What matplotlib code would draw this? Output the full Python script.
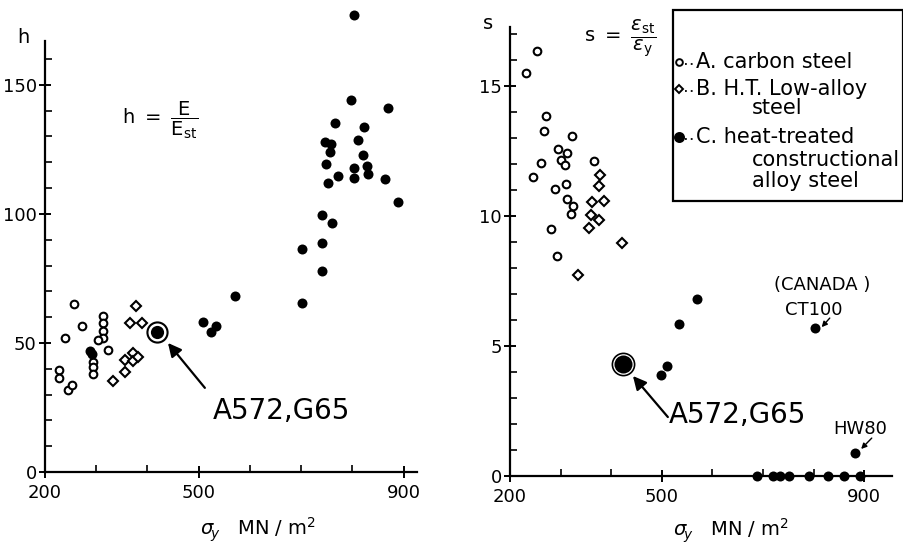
import matplotlib
matplotlib.use('Agg')
import matplotlib.pyplot as plt
from matplotlib.lines import Line2D
from matplotlib.patches import Rectangle

plt.rcParams['font.family'] = ['DejaVu Sans']
plt.rcParams['mathtext.fontset'] = 'dejavusans'

# ---- left panel: h = E / E_st ----
h_A_sy = [257, 272, 239, 228, 228, 244, 253, 313, 313, 313, 313, 304, 322, 294, 294, 294]
h_A_val = [65.0, 56.6, 52.1, 39.5, 36.3, 31.8, 33.7, 60.5, 57.9, 54.8, 51.8, 51.2, 47.3, 42.8, 40.5, 38.0]
h_B_sy = [378, 365, 389, 332, 356, 356, 372, 372, 382]
h_B_val = [64.3, 57.9, 57.9, 35.4, 43.4, 38.9, 46.0, 43.0, 44.7]
h_C_sy = [804, 798, 870, 766, 823, 746, 759, 756, 810, 821, 748, 804, 828, 771, 752, 804,
          830, 863, 889, 741, 761, 740, 701, 741, 701, 571, 509, 524, 534, 288, 292]
h_C_val = [177, 144.2, 141, 135.4, 133.6, 127.8, 127.1, 124.1, 128.7, 122.9, 119.3, 117.7,
           118.7, 114.5, 111.9, 113.8, 115.4, 113.6, 104.8, 99.6, 96.6, 88.6, 86.4, 77.8,
           65.6, 68.2, 58.3, 54.4, 56.6, 47.0, 45.6]
h_a572 = (418, 54.2)

# ---- right panel: s = eps_st / eps_y ----
s_A_sy = [253, 232, 271, 268, 323, 294, 313, 300, 309, 262, 246, 366, 289, 311, 313, 324, 320, 281, 292]
s_A_val = [16.36, 15.5, 13.86, 13.3, 13.1, 12.6, 12.43, 12.15, 11.99, 12.05, 11.5, 12.13,
           11.03, 11.26, 10.65, 10.4, 10.08, 9.5, 8.46]
s_B_sy = [377, 375, 363, 386, 361, 376, 357, 421, 334]
s_B_val = [11.58, 11.15, 10.55, 10.58, 10.04, 9.87, 9.55, 8.97, 7.73]
s_C_sy = [569, 535, 511, 498, 803, 882, 689, 720, 733, 752, 790, 829, 861, 892]
s_C_val = [6.8, 5.85, 4.23, 3.88, 5.68, 0.9, 0, 0, 0, 0, 0, 0, 0, 0]
s_a572 = (423, 4.31)

W, H = 904, 550
fig = plt.figure(figsize=(W / 100, H / 100), dpi=100)


def px_axes(x0, y0, x1, y1):
    return fig.add_axes([x0 / W, 1 - y1 / H, (x1 - x0) / W, (y1 - y0) / H])


def style(ax, yminor):
    for s in ['top', 'right']:
        ax.spines[s].set_visible(False)
    for s in ['left', 'bottom']:
        ax.spines[s].set_linewidth(1.6)
    ax.set_xticks([200, 500, 900])
    ax.set_xticks([300, 400, 600, 700, 800], minor=True)
    ax.set_yticks(yminor, minor=True)
    ax.tick_params(which='major', direction='inout', length=8, width=1.4, labelsize=13, pad=2)
    ax.tick_params(axis='x', which='major', pad=5)
    ax.tick_params(which='minor', direction='in', length=5, width=1.2)


def draw(ax, A, B, C, big, big_sizes):
    ax.plot(A[0], A[1], 'o', ms=5.5, mfc='white', mec='black', mew=1.5, ls='none', clip_on=False)
    ax.plot(B[0], B[1], 'D', ms=4.6, mfc='white', mec='black', mew=1.5, ls='none', clip_on=False)
    ax.plot(C[0], C[1], 'o', ms=7.2, mfc='black', mec='black', mew=0, ls='none', clip_on=False)
    ax.plot([big[0]], [big[1]], 'o', ms=big_sizes[0], mfc='none', mec='black', mew=big_sizes[2])
    ax.plot([big[0]], [big[1]], 'o', ms=big_sizes[1], mfc='black', mec='black', mew=0)


xlab = r'$\sigma_{\!y}$   MN / m$^2$'

# left panel
ax1 = px_axes(45, 41, 417, 472)
ax1.set_xlim(200, 926)
ax1.set_ylim(0, 167)
ax1.set_yticks([0, 50, 100, 150])
style(ax1, [v for v in range(10, 170, 10) if v % 50])
draw(ax1, (h_A_sy, h_A_val), (h_B_sy, h_B_val), (h_C_sy, h_C_val), h_a572, (14.5, 9.5, 1.5))
ax1.set_ylabel('h', rotation=0, fontsize=14)
ax1.yaxis.set_label_coords(-0.059, 0.985)
ax1.set_xlabel(xlab, fontsize=14)
ax1.xaxis.set_label_coords(0.573, -0.102)
ax1.text(424, 136.4, r'$\mathrm{h}\ =\ \dfrac{\mathrm{E}}{\mathrm{E_{st}}}$', fontsize=14,
         ha='center', va='center')
ax1.text(528, 23.6, 'A572,G65', fontsize=20, ha='left', va='center')
ax1.annotate('', xy=(440, 50), xytext=(512, 32.6),
             arrowprops=dict(arrowstyle='-|>', lw=1.6, color='black', mutation_scale=20,
                             shrinkA=0, shrinkB=0))

# right panel
ax2 = px_axes(510, 26.6, 892, 476)
ax2.set_xlim(200, 955)
ax2.set_ylim(0, 17.3)
ax2.set_yticks([0, 5, 10, 15])
style(ax2, [v for v in range(1, 18) if v % 5])
draw(ax2, (s_A_sy, s_A_val), (s_B_sy, s_B_val), (s_C_sy, s_C_val), s_a572, (16, 13, 1.2))
ax2.set_ylabel('s', rotation=0, fontsize=14)
ax2.yaxis.set_label_coords(-0.058, 0.985)
ax2.set_xlabel(xlab, fontsize=14)
ax2.xaxis.set_label_coords(0.579, -0.09)
ax2.text(417, 16.85, r'$\mathrm{s}\ =\ \dfrac{\epsilon_{\mathrm{st}}}{\epsilon_{\mathrm{y}}}$',
         fontsize=14, ha='center', va='center')
ax2.text(514, 2.35, 'A572,G65', fontsize=20, ha='left', va='center')
ax2.annotate('', xy=(443, 3.85), xytext=(512, 2.27),
             arrowprops=dict(arrowstyle='-|>', lw=1.6, color='black', mutation_scale=20,
                             shrinkA=0, shrinkB=0))
ax2.text(817, 7.35, '(CANADA )', fontsize=13, ha='center', va='center')
ax2.text(801, 6.38, 'CT100', fontsize=13, ha='center', va='center')
ax2.annotate('', xy=(816, 5.73), xytext=(832, 6.08),
             arrowprops=dict(arrowstyle='-|>', lw=1.0, color='black', mutation_scale=8,
                             shrinkA=0, shrinkB=0))
ax2.text(892, 1.8, 'HW80', fontsize=13, ha='center', va='center')
ax2.annotate('', xy=(894, 1.04), xytext=(915, 1.46),
             arrowprops=dict(arrowstyle='-|>', lw=1.0, color='black', mutation_scale=8,
                             shrinkA=0, shrinkB=0))

# legend box drawn by hand in figure pixels
def fx(x):
    return x / W


def fy(y):
    return 1 - y / H


fig.add_artist(Rectangle((fx(673), fy(201)), (903 - 673) / W, 191 / H, transform=fig.transFigure,
                         fill=True, facecolor='white', edgecolor='black', lw=1.6))
leg_rows = [('o', 'white', 62, ['A. carbon steel']),
            ('D', 'white', 89, ['B. H.T. Low-alloy', 'steel']),
            ('o', 'black', 137, ['C. heat-treated', 'constructional', 'alloy steel'])]
cont_y = {89: [108], 137: [160, 181]}
for mk, fc, y, lines in leg_rows:
    ms = 4.8 if mk == 'o' and fc == 'white' else (4.3 if mk == 'D' else 6.5)
    fig.add_artist(Line2D([fx(679)], [fy(y)], marker=mk, ms=ms, mfc=fc, mec='black', mew=1.4,
                          transform=fig.transFigure))
    fig.add_artist(Line2D([fx(685), fx(695)], [fy(y + 2), fy(y + 2)], ls=(0, (1, 2.2)), lw=1.3,
                          color='black', transform=fig.transFigure))
    fig.text(fx(696), fy(y), lines[0], fontsize=15, ha='left', va='center')
    for txt, yy in zip(lines[1:], cont_y.get(y, [])):
        fig.text(fx(752), fy(yy), txt, fontsize=15, ha='left', va='center')

fig.savefig('out.png', dpi=100, facecolor='white')
